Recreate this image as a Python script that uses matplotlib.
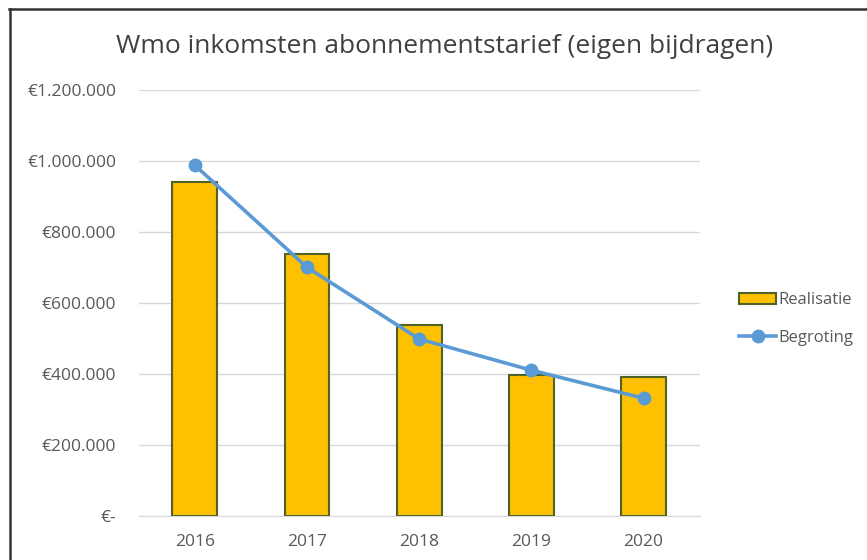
import matplotlib.pyplot as plt
from matplotlib.lines import Line2D
from matplotlib.patches import Patch
from matplotlib.ticker import FuncFormatter

plt.rcParams['font.family'] = ['Open Sans', 'DejaVu Sans']

# data
years = ['2016', '2017', '2018', '2019', '2020']
realisatie = [941000, 738000, 538000, 397000, 392000]
begroting = [989000, 701000, 499000, 411000, 332000]
yticks = [0, 200000, 400000, 600000, 800000, 1000000, 1200000]

fig = plt.figure(figsize=(8.67, 5.6), dpi=100)
ax = fig.add_axes([0.160, 0.0786, 0.647, 0.760])

x = range(len(years))
ax.bar(x, realisatie, width=0.4, color='#FFC000', edgecolor='#4F6228',
       linewidth=1.5, zorder=2)
ax.plot(x, begroting, color='#5B9BD5', linewidth=2.6, marker='o',
        markersize=9, zorder=3)

def euro(v, pos):
    if v == 0:
        return '€-'
    return '€' + f'{int(v):,}'.replace(',', '.')

ax.set_ylim(0, 1200000)
ax.set_yticks(yticks)
ax.yaxis.set_major_formatter(FuncFormatter(euro))
ax.set_xlim(-0.5, len(years) - 0.5)
ax.set_xticks(list(x))
ax.set_xticklabels(years)
ax.grid(axis='y', color='#D9D9D9', linewidth=1, zorder=0)
ax.set_axisbelow(True)
for s in ['top', 'right', 'left']:
    ax.spines[s].set_visible(False)
ax.spines['bottom'].set_color('#D9D9D9')
ax.tick_params(axis='both', length=0, labelsize=12.5, labelcolor='#595959')
ax.tick_params(axis='y', pad=16)
ax.tick_params(axis='x', pad=13)

fig.text(0.513, 0.917, 'Wmo inkomsten abonnementstarief (eigen bijdragen)',
         ha='center', va='center', fontsize=19, color='#404040')

handles = [Patch(facecolor='#FFC000', edgecolor='#4F6228', linewidth=1.5),
           Line2D([0], [0], color='#5B9BD5', linewidth=2.6, marker='o', markersize=9)]
fig.legend(handles, ['Realisatie', 'Begroting'], loc='center left',
           bbox_to_anchor=(0.845, 0.43), frameon=False, fontsize=12,
           labelcolor='#595959', handlelength=2.2, handletextpad=0.15,
           labelspacing=1.3, borderaxespad=0)

# frame lines (left and top)
fig.add_artist(Line2D([0.0115, 0.0115], [0, 0.984], transform=fig.transFigure,
                      color='#333333', linewidth=1.8))
fig.add_artist(Line2D([0.0105, 1.0], [0.984, 0.984], transform=fig.transFigure,
                      color='#333333', linewidth=1.8))

fig.savefig('out.png', dpi=100)
